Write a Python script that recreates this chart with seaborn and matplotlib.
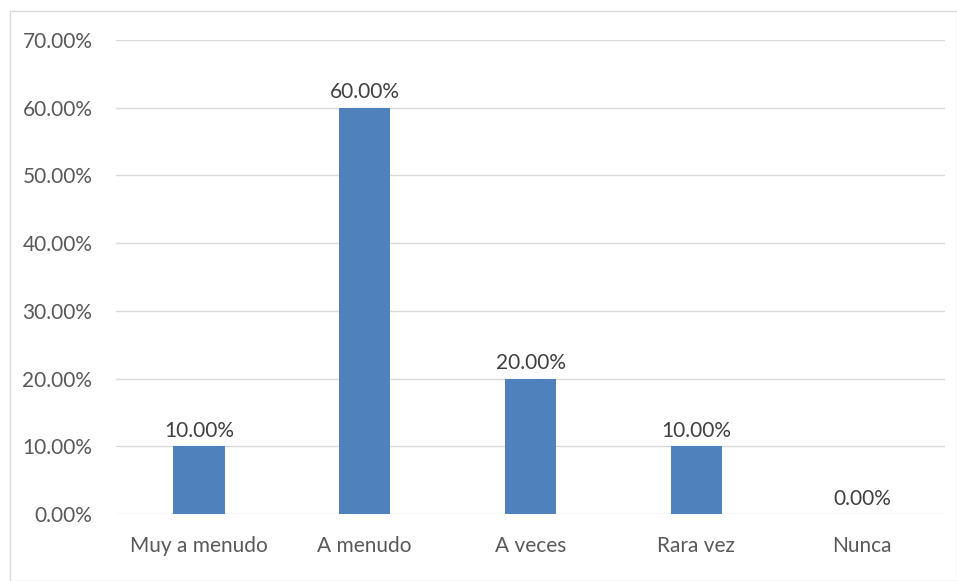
import matplotlib
matplotlib.use('Agg')
import matplotlib.pyplot as plt
import seaborn as sns
import pandas as pd
from matplotlib.patches import Rectangle

categorias = ['Muy a menudo', 'A menudo', 'A veces', 'Rara vez', 'Nunca']
porcentajes = [10.0, 60.0, 20.0, 10.0, 0.0]
ticks_y = [0, 10, 20, 30, 40, 50, 60, 70]

sns.set_theme(style='white')
plt.rcParams['font.family'] = ['Lato', 'DejaVu Sans']

df = pd.DataFrame({'cat': categorias, 'val': porcentajes})

fig = plt.figure(figsize=(9.57, 5.81), dpi=100)
ax = fig.add_axes([0.1212, 0.1153, 0.8663, 0.8159])
sns.barplot(data=df, x='cat', y='val', color='#4F81BD', saturation=1, width=0.31,
            linewidth=0, ax=ax, zorder=3)

fs = 15
ax.set_ylim(0, 70)
ax.set_yticks(ticks_y)
ax.set_yticklabels([f'{t:.2f}%' for t in ticks_y], color='#595959', fontsize=fs)
ax.set_xticks(range(len(categorias)))
ax.set_xticklabels(categorias, color='#595959', fontsize=fs)
ax.set_xlabel('')
ax.set_ylabel('')
ax.grid(axis='y', color='#D9D9D9', linewidth=1, zorder=0)
for s in ax.spines.values():
    s.set_visible(False)
ax.tick_params(axis='both', length=0)
ax.tick_params(axis='y', pad=17)
ax.tick_params(axis='x', pad=16)
ax.set_xlim(-0.5, len(categorias) - 0.5)

for i, v in enumerate(porcentajes):
    ax.text(i, v + 0.8, f'{v:.2f}%', ha='center', va='bottom', color='#404040', fontsize=fs)

fig.patches.append(Rectangle((10 / 957, 0), 1 - 10 / 957, 1 - 11 / 581, transform=fig.transFigure,
                             fill=False, edgecolor='#D9D9D9', linewidth=1))

fig.savefig('out.png', dpi=100)
